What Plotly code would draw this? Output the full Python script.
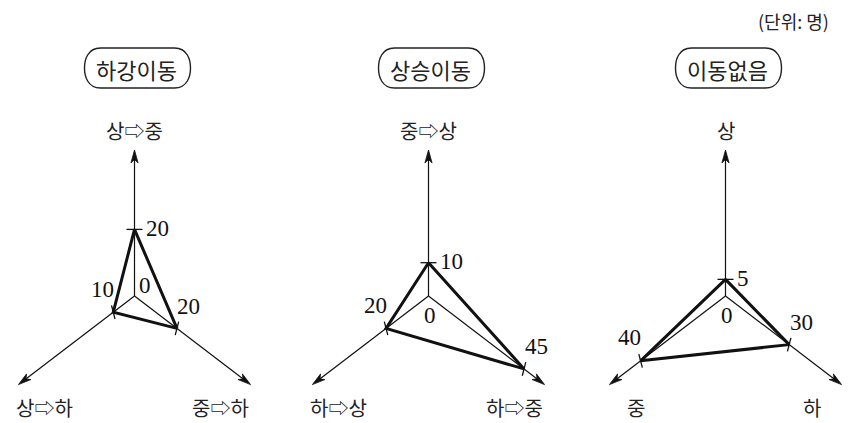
"""Three-axis movement diagrams (하강이동 / 상승이동 / 이동없음) drawn with plotly."""

import plotly.graph_objects as go

# data
panel_titles = ["하강이동", "상승이동", "이동없음"]
top_labels = ["상⇨중", "중⇨상", "상"]
left_labels = ["상⇨하", "하⇨상", "중"]
right_labels = ["중⇨하", "하⇨중", "하"]
top_values = [20, 10, 5]
left_values = [10, 20, 40]
right_values = [20, 45, 30]
unit_note = "(단위: 명)"

# layout (pixel space: 1 data unit = 1 px of the page; the page body keeps an 8px margin)
W, H = 861, 423
PAGE_MARGIN = 8
ORIGIN_X = [134.5, 428.5, 725.5]
ORIGIN_Y = 296
AXIS_LEN = 146
DIRS = [(0.0, -1.0), (-0.795, 0.607), (0.795, 0.607)]  # up, lower-left, lower-right
SCALES = [3.33, 2.67, 2.67]  # px per person along each axis
TICK_DIRS = [(1.0, 0.0), (0.25, 0.97), (-0.25, 0.97)]
TICK_HALF = [8, 7, 7]
LABEL_OFF = [(9, -1), (-11, -23), (12, -22)]
ZERO_OFF = [(10, -11), (1, 19), (1, 19)]
AXIS_LABEL_POS = [(0, -166), (-90, 111), (86, 111)]

KR = "Noto Sans CJK KR, DejaVu Sans"
SERIF = "Liberation Serif"
INK = "#111111"

fig = go.Figure()
annotations = []
shapes = []


def at(ox, k, value):
    dx, dy = DIRS[k]
    return ox + dx * SCALES[k] * value, ORIGIN_Y + dy * SCALES[k] * value


for p, title in enumerate(panel_titles):
    ox = ORIGIN_X[p]
    vals = [top_values[p], left_values[p], right_values[p]]
    labels = [top_labels[p], left_labels[p], right_labels[p]]

    # thin axes with notched arrowheads
    ax_x, ax_y, head_x, head_y = [], [], [], []
    for k, (dx, dy) in enumerate(DIRS):
        tx, ty = ox + dx * AXIS_LEN, ORIGIN_Y + dy * AXIS_LEN
        ax_x += [ox, tx - dx * 6, None]
        ax_y += [ORIGIN_Y, ty - dy * 6, None]
        nx, ny = -dy, dx
        head_x += [tx, tx - dx * 13 + nx * 3.6, tx - dx * 9.5, tx - dx * 13 - nx * 3.6, tx, None]
        head_y += [ty, ty - dy * 13 + ny * 3.6, ty - dy * 9.5, ty - dy * 13 - ny * 3.6, ty, None]
    fig.add_trace(go.Scatter(x=ax_x, y=ax_y, mode="lines",
                             line=dict(color=INK, width=1.2), hoverinfo="skip"))
    fig.add_trace(go.Scatter(x=head_x, y=head_y, mode="lines", fill="toself",
                             fillcolor=INK, line=dict(color=INK, width=0.8),
                             hoverinfo="skip"))

    # tick marks at each value
    tk_x, tk_y = [], []
    for k in range(3):
        px, py = at(ox, k, vals[k])
        tdx, tdy = TICK_DIRS[k]
        tk_x += [px - tdx * TICK_HALF[k], px + tdx * TICK_HALF[k], None]
        tk_y += [py - tdy * TICK_HALF[k], py + tdy * TICK_HALF[k], None]
    fig.add_trace(go.Scatter(x=tk_x, y=tk_y, mode="lines",
                             line=dict(color=INK, width=1.3), hoverinfo="skip"))

    # thick triangle
    tri = [at(ox, k, vals[k]) for k in (0, 1, 2, 0)]
    fig.add_trace(go.Scatter(x=[t[0] for t in tri], y=[t[1] for t in tri],
                             mode="lines", line=dict(color=INK, width=3),
                             hoverinfo="skip"))

    # value labels
    for k in range(3):
        px, py = at(ox, k, vals[k])
        ddx, ddy = LABEL_OFF[k]
        annotations.append(dict(
            x=px + ddx, y=py + ddy, text=str(vals[k]), showarrow=False,
            xanchor="left" if k == 0 else "center", yanchor="middle",
            font=dict(family=SERIF, size=23, color=INK)))
    annotations.append(dict(
        x=ox + ZERO_OFF[p][0], y=ORIGIN_Y + ZERO_OFF[p][1], text="0", showarrow=False,
        font=dict(family=SERIF, size=23, color=INK)))

    # axis names
    for k in range(3):
        lx, ly = AXIS_LABEL_POS[k]
        annotations.append(dict(
            x=ox + lx, y=ORIGIN_Y + ly, text=labels[k], showarrow=False,
            font=dict(family=KR, size=20, color="#222222")))

    # rounded title box
    cx, cy, hw, hh, r = ox + 3, 68, 52, 20, 15
    x0, x1, y0, y1 = cx - hw, cx + hw, cy - hh, cy + hh
    shapes.append(dict(
        type="path", xref="x", yref="y",
        path=(f"M{x0 + r},{y0} L{x1 - r},{y0} "
              f"C{x1 - 2},{y0} {x1 + 1},{cy - 8} {x1 + 1},{cy} "
              f"C{x1 + 1},{cy + 8} {x1 - 2},{y1} {x1 - r},{y1} "
              f"L{x0 + r},{y1} "
              f"C{x0 + 2},{y1} {x0 - 1},{cy + 8} {x0 - 1},{cy} "
              f"C{x0 - 1},{cy - 8} {x0 + 2},{y0} {x0 + r},{y0} Z"),
        line=dict(color="#222222", width=1.4)))
    annotations.append(dict(
        x=cx - 1, y=cy + 1, text=title, showarrow=False,
        font=dict(family=KR, size=22, color="#222222")))

annotations.append(dict(
    x=793, y=21, text=unit_note, showarrow=False,
    font=dict(family=KR, size=18, color="#222222")))

fig.update_layout(
    width=W - PAGE_MARGIN, height=H - PAGE_MARGIN,
    margin=dict(l=0, r=0, t=0, b=0),
    paper_bgcolor="white", plot_bgcolor="white",
    showlegend=False,
    xaxis=dict(range=[PAGE_MARGIN, W], visible=False, fixedrange=True),
    yaxis=dict(range=[H, PAGE_MARGIN], visible=False, fixedrange=True),
    annotations=annotations,
    shapes=shapes,
)

fig.write_html("out.html")
